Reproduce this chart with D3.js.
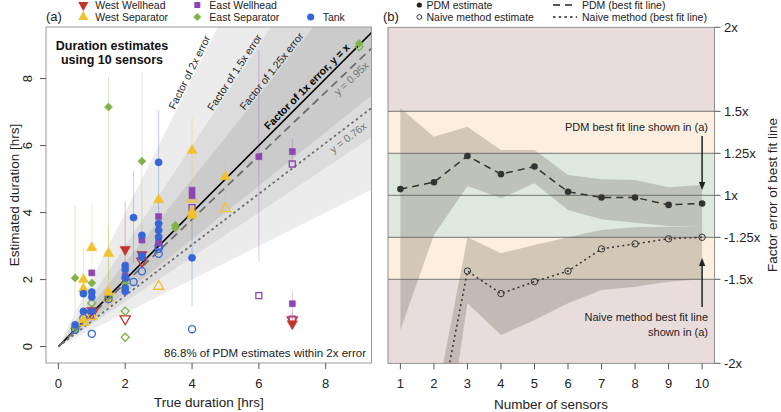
<!DOCTYPE html>
<html><head><meta charset="utf-8">
<script src="https://cdn.jsdelivr.net/npm/d3@7"></script>
<style>body{margin:0;background:#fff} text{font-family:"Liberation Sans",Arial,Helvetica,sans-serif}</style>
</head><body><svg id="c" width="781" height="412"></svg>
<script>
// ---------- Panel (a) data: [true duration, estimated duration] ----------
const wwPdm   = [[1,1.08],[2,2.9],[2.5,2.75],[7,0.68]];
const wwNaive = [[1,0.98],[2,0.83],[2.5,2.55],[7,0.8]];
const wwErr   = [[2,2.2,4.35],[7,0.55,1.0]];
const wsPdm   = [[0.75,2.0],[0.75,1.72],[0.75,0.8],[1,2.95],[1.5,2.78],[1.5,1.62],[3,4.38],[4,5.85],[4,4.02],[4,3.92],[5,5.07]];
const wsNaive = [[0.75,0.72],[1,0.9],[1.5,1.45],[3,1.8],[4,4.42],[5,4.12]];
const wsErr   = [[0.75,0.6,3.0],[1,1.8,4.3],[1.5,1.2,3.6],[4,3.5,6.85],[5,3.9,5.7]];
const ewPdm   = [[1,2.2],[2,2.1],[2.5,3.18],[3,3.88],[3,3.1],[4,4.67],[4,4.5],[6,5.67],[7,5.82],[7,1.28]];
const ewNaive = [[3,3.0],[4,4.15],[6,1.52],[7,5.45],[7,0.82]];
const ewErr   = [[6,2.55,8.85],[7,5.45,6.2],[7,0.8,1.65]];
const esPdm   = [[0.5,2.05],[0.5,0.6],[1,1.9],[1.5,7.15],[2,1.88],[2.5,5.53],[3.5,3.62],[3.5,3.53],[9,9.05]];
const esNaive = [[0.5,0.55],[1,1.3],[1.5,1.5],[2,1.06],[2,0.28],[9,8.95]];
const esErr   = [[0.5,1.0,4.2],[1.5,2.0,8.05],[2.5,3.0,8.2]];
const tkPdm   = [[0.5,0.65],[0.75,1.58],[0.75,1.05],[1,1.63],[1,1.48],[1,1.05],[2,2.42],[2,2.3],[2,2.05],[2,1.75],[2,1.65],[2.25,3.85],[2.5,3.32],[2.5,2.72],[2.5,2.66],[3,5.5],[3,3.67],[3,3.47],[3,3.27],[4,2.65]];
const tkNaive = [[0.5,0.5],[0.75,0.85],[1,0.38],[1.5,1.42],[2.25,1.93],[2.5,2.25],[3,3.0],[3,2.92],[3,2.77],[4,0.52]];
const tkErr   = [[2.25,2.5,5.25],[3,3.3,7.06],[4,1.2,4.0]];
const errorFactors = [2, 1.5, 1.25];
const fitSlopes = [1, 0.95, 0.76];
const xTicksA = [0, 2, 4, 6, 8];
const yTicksA = [0, 2, 4, 6, 8];

// ---------- Panel (b) data: best-fit slope vs number of sensors ----------
const sensors  = [1,2,3,4,5,6,7,8,9,10];
const pdmFit   = [1.037,1.078,1.234,1.126,1.171,1.021,0.987,0.987,0.943,0.951];
const pdmLo    = [0.198,0.764,1.055,0.982,1.071,0.912,0.857,0.837,0.817,0.817];
const pdmHi    = [1.518,1.349,1.408,1.27,1.27,1.121,1.095,1.091,1.048,1.061];
const naiveFit = [null,-0.48,0.549,0.415,0.486,0.549,0.681,0.711,0.741,0.75];
const naiveLo  = [null,-0.99,0.357,0.168,0.257,0.357,0.436,0.456,0.486,0.5];
const naiveHi  = [null,-0.29,0.75,0.655,0.704,0.75,0.793,0.81,0.813,0.817];
const yTicksB  = [0, 0.5, 0.75, 1, 1.25, 1.5, 2];
const yLabelsB = ["-2x","-1.5x","-1.25x","1x","1.25x","1.5x","2x"];

const colors = {ww:"#c4342b", ws:"#f2c12e", ew:"#8e45b3", es:"#7fb34a", tk:"#3565d8"};

const svg = d3.select("#c");
const defs = svg.append("defs");

// ================= Panel (a) =================
const xA = d3.scaleLinear().domain([-0.37, 9.37]).range([46, 371.5]);
const yA = d3.scaleLinear().domain([-0.49, 9.54]).range([363, 27]);
defs.append("clipPath").attr("id","clipA").append("rect")
  .attr("x",46).attr("y",27).attr("width",325.5).attr("height",336);
const gA = svg.append("g");
const gAc = gA.append("g").attr("clip-path","url(#clipA)");

const bandFill = ["#ececec","#dcdcdc","#cbcbcb"];
errorFactors.forEach((f,i) => {
  const pts = [[0,0],[30,30*f],[30,30/f]].map(d => [xA(d[0]), yA(d[1])]);
  gAc.append("polygon").attr("points", pts.map(p=>p.join(",")).join(" ")).attr("fill", bandFill[i]);
});
const lineStyles = [{c:"#000",w:1.6,d:null},{c:"#6e6e6e",w:1.8,d:"8,5"},{c:"#6e6e6e",w:1.8,d:"2.5,3"}];
fitSlopes.forEach((k,i) => {
  gAc.append("line").attr("x1",xA(0)).attr("y1",yA(0)).attr("x2",xA(12)).attr("y2",yA(12*k))
    .attr("stroke",lineStyles[i].c).attr("stroke-width",lineStyles[i].w)
    .attr("stroke-dasharray",lineStyles[i].d);
});
function lineLabel(k, atX, txt, dy, opts) {
  const px = xA(atX), py = yA(atX*k);
  const ang = Math.atan2(yA(0)-yA(k), xA(1)-xA(0)) * 180/Math.PI;
  gAc.append("text").attr("transform",`translate(${px},${py}) rotate(${-ang})`)
    .attr("text-anchor","middle").attr("dy",dy)
    .attr("font-size",opts.size||10.5).attr("font-weight",opts.bold?"bold":null)
    .attr("fill",opts.fill||"#222").text(txt);
}
lineLabel(errorFactors[0], 4.06, "Factor of 2x error", -1.5, {});
lineLabel(errorFactors[1], 5.4, "Factor of 1.5x error", -1.5, {});
lineLabel(errorFactors[2], 6.5, "Factor of 1.25x error", -1.5, {});
lineLabel(fitSlopes[0], 7.6, "Factor of 1x error, y = x", -4, {bold:true, size:10.5, fill:"#000"});
lineLabel(fitSlopes[1], 8.6, "y = 0.95x", 11.5, {fill:"#777"});
lineLabel(fitSlopes[2], 8.5, "y = 0.76x", 13, {fill:"#777"});

const errSets = [["ww",wwErr],["ws",wsErr],["ew",ewErr],["es",esErr],["tk",tkErr]];
errSets.forEach(([k,arr]) => {
  gAc.selectAll(null).data(arr).enter().append("line")
    .attr("x1",d=>xA(d[0])).attr("x2",d=>xA(d[0])).attr("y1",d=>yA(d[1])).attr("y2",d=>yA(d[2]))
    .attr("stroke",colors[k]).attr("stroke-opacity",0.3).attr("stroke-width",1);
});

const symGen = {
  ww: d3.symbol().type(d3.symbolTriangle).size(46),
  ws: d3.symbol().type(d3.symbolTriangle).size(46),
  ew: d3.symbol().type(d3.symbolSquare).size(36),
  es: d3.symbol().type(d3.symbolSquare).size(32),
  tk: d3.symbol().type(d3.symbolCircle).size(40)
};
const symRot = {ww:180, ws:0, ew:0, es:45, tk:0};
function drawPts(g, k, arr, filled) {
  g.selectAll(null).data(arr).enter().append("path")
    .attr("d", symGen[k]())
    .attr("transform", d => `translate(${xA(d[0])},${yA(d[1])}) rotate(${symRot[k]})`)
    .attr("fill", filled ? colors[k] : "none")
    .attr("stroke", colors[k]).attr("stroke-width", filled ? 0.6 : 1.3);
}
const naiveSets = [["ww",wwNaive],["ws",wsNaive],["ew",ewNaive],["es",esNaive],["tk",tkNaive]];
const pdmSets = [["ww",wwPdm],["ws",wsPdm],["ew",ewPdm],["es",esPdm],["tk",tkPdm]];
naiveSets.forEach(([k,a]) => drawPts(gAc,k,a,false));
pdmSets.forEach(([k,a]) => drawPts(gAc,k,a,true));

gA.append("rect").attr("x",46).attr("y",27).attr("width",325.5).attr("height",336)
  .attr("fill","none").attr("stroke","#9a9a9a").attr("stroke-width",1);
const axA = gA.append("g");
xTicksA.forEach(t => {
  axA.append("line").attr("x1",xA(t)).attr("x2",xA(t)).attr("y1",363).attr("y2",369).attr("stroke","#555");
  axA.append("text").attr("x",xA(t)).attr("y",388).attr("text-anchor","middle").attr("font-size",13).attr("fill","#222").text(t);
});
yTicksA.forEach(t => {
  axA.append("line").attr("x1",40).attr("x2",46).attr("y1",yA(t)).attr("y2",yA(t)).attr("stroke","#555");
  axA.append("text").attr("transform",`translate(32,${yA(t)}) rotate(-90)`).attr("text-anchor","middle").attr("font-size",13).attr("fill","#222").text(t);
});
gA.append("text").attr("x",208.8).attr("y",407).attr("text-anchor","middle").attr("font-size",13.5).attr("fill","#222").text("True duration [hrs]");
gA.append("text").attr("transform","translate(19,195) rotate(-90)").attr("text-anchor","middle").attr("font-size",13.5).attr("fill","#222").text("Estimated duration [hrs]");
gA.append("text").attr("x",112).attr("y",50).attr("text-anchor","middle").attr("font-size",12.5).attr("font-weight","bold").attr("fill","#111").text("Duration estimates");
gA.append("text").attr("x",112).attr("y",64).attr("text-anchor","middle").attr("font-size",12.5).attr("font-weight","bold").attr("fill","#111").text("using 10 sensors");
gA.append("text").attr("x",366).attr("y",356.5).attr("text-anchor","end").attr("font-size",11.5).attr("fill","#222").text("86.8% of PDM estimates within 2x error");
gA.append("text").attr("x",46).attr("y",21).attr("font-size",13).attr("fill","#222").text("(a)");

// legend (a)
const legA = [["ww","West Wellhead",83.3,5],["ws","West Separator",83.3,17],["ew","East Wellhead",197.3,5],["es","East Separator",197.3,17],["tk","Tank",310.7,17]];
legA.forEach(([k,lab,x,y]) => {
  svg.append("path").attr("d",symGen[k]()).attr("transform",`translate(${x},${y}) rotate(${symRot[k]})`).attr("fill",colors[k]);
  svg.append("text").attr("x",x+12).attr("y",y+3.8).attr("font-size",10.5).attr("fill","#222").text(lab);
});

// ================= Panel (b) =================
const xB = d3.scaleLinear().domain([0.63, 10.37]).range([388, 714.5]);
const yB = d3.scaleLinear().domain([0, 2]).range([363.3, 27.3]);
defs.append("clipPath").attr("id","clipB").append("rect")
  .attr("x",388).attr("y",27.3).attr("width",326.5).attr("height",336);
const gB = svg.append("g");
const gBc = gB.append("g").attr("clip-path","url(#clipB)");
const zones = [[0,0.5,"#e9dcdc"],[0.5,0.75,"#fcefdf"],[0.75,1.25,"#dee8df"],[1.25,1.5,"#fcefdf"],[1.5,2,"#e9dcdc"]];
zones.forEach(([a,b,c]) => gBc.append("rect").attr("x",388).attr("width",326.5).attr("y",yB(b)).attr("height",yB(a)-yB(b)).attr("fill",c));

const rows = sensors.map((n,i) => ({n, pf:pdmFit[i], pl:pdmLo[i], ph:pdmHi[i], nf:naiveFit[i], nl:naiveLo[i], nh:naiveHi[i]}));
const bandColor = "rgba(115,105,95,0.30)";
gBc.append("path").datum(rows).attr("fill",bandColor)
  .attr("d", d3.area().x(d=>xB(d.n)).y0(d=>yB(d.pl)).y1(d=>yB(d.ph)));
gBc.append("path").datum(rows.filter(d=>d.nf!==null)).attr("fill",bandColor)
  .attr("d", d3.area().x(d=>xB(d.n)).y0(d=>yB(d.nl)).y1(d=>yB(d.nh)));
yTicksB.slice(1,-1).forEach(t => gBc.append("line").attr("x1",388).attr("x2",714.5).attr("y1",yB(t)).attr("y2",yB(t)).attr("stroke","#666").attr("stroke-width",0.9));
gBc.append("path").datum(rows).attr("fill","none").attr("stroke","#333").attr("stroke-width",1.5).attr("stroke-dasharray","7,5")
  .attr("d", d3.line().x(d=>xB(d.n)).y(d=>yB(d.pf)));
gBc.append("path").datum(rows.filter(d=>d.nf!==null)).attr("fill","none").attr("stroke","#333").attr("stroke-width",1.5).attr("stroke-dasharray","2,3.2")
  .attr("d", d3.line().x(d=>xB(d.n)).y(d=>yB(d.nf)));
gBc.selectAll(null).data(rows).enter().append("circle").attr("cx",d=>xB(d.n)).attr("cy",d=>yB(d.pf)).attr("r",3.3).attr("fill","#333");
gBc.selectAll(null).data(rows.filter(d=>d.nf!==null && d.nf>0)).enter().append("circle").attr("cx",d=>xB(d.n)).attr("cy",d=>yB(d.nf)).attr("r",3.2).attr("fill","none").attr("stroke","#333").attr("stroke-width",1);

gB.append("rect").attr("x",388).attr("y",27.3).attr("width",326.5).attr("height",336).attr("fill","none").attr("stroke","#777").attr("stroke-width",0.8);
yTicksB.forEach((t,i) => {
  gB.append("line").attr("x1",714.5).attr("x2",720.5).attr("y1",yB(t)).attr("y2",yB(t)).attr("stroke","#555");
  gB.append("text").attr("x",724).attr("y",yB(t)+4.5).attr("font-size",13).attr("fill","#222").text(yLabelsB[i]);
});
sensors.forEach(n => {
  gB.append("line").attr("x1",xB(n)).attr("x2",xB(n)).attr("y1",363.3).attr("y2",369.3).attr("stroke","#555");
  gB.append("text").attr("x",xB(n)).attr("y",388).attr("text-anchor","middle").attr("font-size",13).attr("fill","#222").text(n);
});
gB.append("text").attr("x",551).attr("y",409).attr("text-anchor","middle").attr("font-size",13.5).attr("fill","#222").text("Number of sensors");
gB.append("text").attr("transform","translate(777,195) rotate(-90)").attr("text-anchor","middle").attr("font-size",13.5).attr("fill","#222").text("Factor error of best fit line");
gB.append("text").attr("x",383).attr("y",21).attr("font-size",13).attr("fill","#222").text("(b)");

gB.append("text").attr("x",708).attr("y",130.5).attr("text-anchor","end").attr("font-size",11).attr("fill","#222").text("PDM best fit line shown in (a)");
gB.append("text").attr("x",708).attr("y",320.5).attr("text-anchor","end").attr("font-size",11).attr("fill","#222").text("Naive method best fit line");
gB.append("text").attr("x",708).attr("y",335.5).attr("text-anchor","end").attr("font-size",11).attr("fill","#222").text("shown in (a)");
const ax10 = xB(10);
function arrow(x, y1, y2) {
  gB.append("line").attr("x1",x).attr("x2",x).attr("y1",y1).attr("y2",y2 + (y2>y1?-6:6)).attr("stroke","#222").attr("stroke-width",1.5);
  const s = y2>y1 ? -1 : 1;
  gB.append("polygon").attr("points",`${x},${y2} ${x-3.2},${y2+s*8} ${x+3.2},${y2+s*8}`).attr("fill","#222");
}
arrow(ax10, 136, 190);
arrow(ax10, 307, 258);

// legend (b)
svg.append("circle").attr("cx",419.3).attr("cy",5).attr("r",2.6).attr("fill","#222");
svg.append("circle").attr("cx",419.3).attr("cy",17).attr("r",2.4).attr("fill","none").attr("stroke","#222").attr("stroke-width",0.9);
svg.append("text").attr("x",426.5).attr("y",8.8).attr("font-size",10.5).attr("fill","#222").text("PDM estimate");
svg.append("text").attr("x",426.5).attr("y",20.8).attr("font-size",10.5).attr("fill","#222").text("Naive method estimate");
svg.append("line").attr("x1",553).attr("x2",575).attr("y1",5).attr("y2",5).attr("stroke","#222").attr("stroke-width",1.5).attr("stroke-dasharray","7,5");
svg.append("line").attr("x1",553).attr("x2",577).attr("y1",17).attr("y2",17).attr("stroke","#222").attr("stroke-width",1.5).attr("stroke-dasharray","2.5,3.2");
svg.append("text").attr("x",582).attr("y",8.8).attr("font-size",10.5).attr("fill","#222").text("PDM (best fit line)");
svg.append("text").attr("x",582).attr("y",20.8).attr("font-size",10.5).attr("fill","#222").text("Naive method (best fit line)");
</script></body></html>
